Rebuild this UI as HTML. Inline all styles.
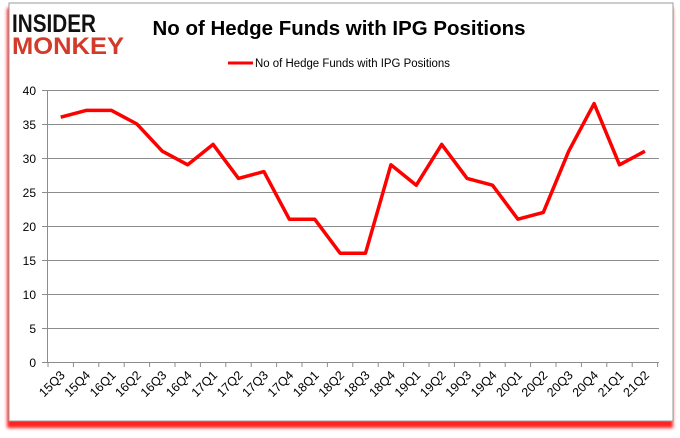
<!DOCTYPE html>
<html><head><style>
body{margin:0;background:#fff;width:680px;height:433px;overflow:hidden;font-family:"Liberation Sans",sans-serif;}
</style></head><body>
<svg width="680" height="433" xmlns="http://www.w3.org/2000/svg">
<defs><filter id="b"><feGaussianBlur stdDeviation="1.5"/></filter></defs>
<rect x="7" y="8" width="666" height="420" fill="#ff2020" filter="url(#b)"/>
<rect x="9" y="3" width="664" height="418" fill="#fff" stroke="#9a9a9a" stroke-width="1"/>
<text x="12" y="32" font-family="Liberation Sans" font-weight="900" font-size="25" fill="#111" textLength="84" lengthAdjust="spacingAndGlyphs">INSIDER</text>
<text x="12" y="54" font-family="Liberation Sans" font-weight="900" font-size="24" fill="#d23a2a" textLength="112" lengthAdjust="spacingAndGlyphs">MONKEY</text>
<text x="339" y="35" text-anchor="middle" font-family="Liberation Sans" font-weight="bold" font-size="20" fill="#000" textLength="373" lengthAdjust="spacingAndGlyphs">No of Hedge Funds with IPG Positions</text>
<line x1="228" y1="63" x2="253" y2="63" stroke="red" stroke-width="3"/>
<text x="255" y="67" font-size="11.5" fill="#000" textLength="195" lengthAdjust="spacingAndGlyphs">No of Hedge Funds with IPG Positions</text>
<g stroke="#8c8c8c" stroke-width="1">
<line x1="42" y1="90.5" x2="659" y2="90.5"/>
<line x1="42" y1="124.5" x2="659" y2="124.5"/>
<line x1="42" y1="158.5" x2="659" y2="158.5"/>
<line x1="42" y1="192.5" x2="659" y2="192.5"/>
<line x1="42" y1="226.5" x2="659" y2="226.5"/>
<line x1="42" y1="260.5" x2="659" y2="260.5"/>
<line x1="42" y1="294.5" x2="659" y2="294.5"/>
<line x1="42" y1="328.5" x2="659" y2="328.5"/>
<line x1="42" y1="362.5" x2="659" y2="362.5"/>
<line x1="47.5" y1="90" x2="47.5" y2="362"/>
</g>
<g font-size="12" fill="#000" text-anchor="end">
<text x="36" y="95">40</text><text x="36" y="129">35</text><text x="36" y="163">30</text><text x="36" y="197">25</text><text x="36" y="231">20</text><text x="36" y="265">15</text><text x="36" y="299">10</text><text x="36" y="333">5</text><text x="36" y="367">0</text>
</g>
<g id="ax"></g>
<polyline fill="none" stroke="red" stroke-width="3.5" stroke-linejoin="round" points="60.7,117.2 86.1,110.4 111.5,110.4 136.9,124 162.3,151.2 187.7,164.8 213.1,144.4 238.5,178.4 263.9,171.6 289.3,219.2 314.7,219.2 340.1,253.2 365.5,253.2 390.9,164.8 416.3,185.2 441.7,144.4 467.1,178.4 492.5,185.2 517.9,219.2 543.3,212.4 568.7,151.2 594.1,103.6 619.5,164.8 644.9,151.2"/>
<script>
var g=document.getElementById('ax'),ns='http://www.w3.org/2000/svg';
var L=['15Q3','15Q4','16Q1','16Q2','16Q3','16Q4','17Q1','17Q2','17Q3','17Q4','18Q1','18Q2','18Q3','18Q4','19Q1','19Q2','19Q3','19Q4','20Q1','20Q2','20Q3','20Q4','21Q1','21Q2'];
for(var i=0;i<=24;i++){var x=48+25.4*i;var l=document.createElementNS(ns,'line');l.setAttribute('x1',x);l.setAttribute('x2',x);l.setAttribute('y1',362);l.setAttribute('y2',367);l.setAttribute('stroke','#8c8c8c');g.appendChild(l);}
L.forEach(function(s,i){var x=48+25.4*(i+0.5)+5,y=376;var t=document.createElementNS(ns,'text');t.setAttribute('x',x);t.setAttribute('y',y);t.setAttribute('font-size','12.5');t.setAttribute('text-anchor','end');t.setAttribute('transform','rotate(-45 '+x+' '+y+')');t.textContent=s;g.appendChild(t);});
</script>
</svg>
</body></html>
